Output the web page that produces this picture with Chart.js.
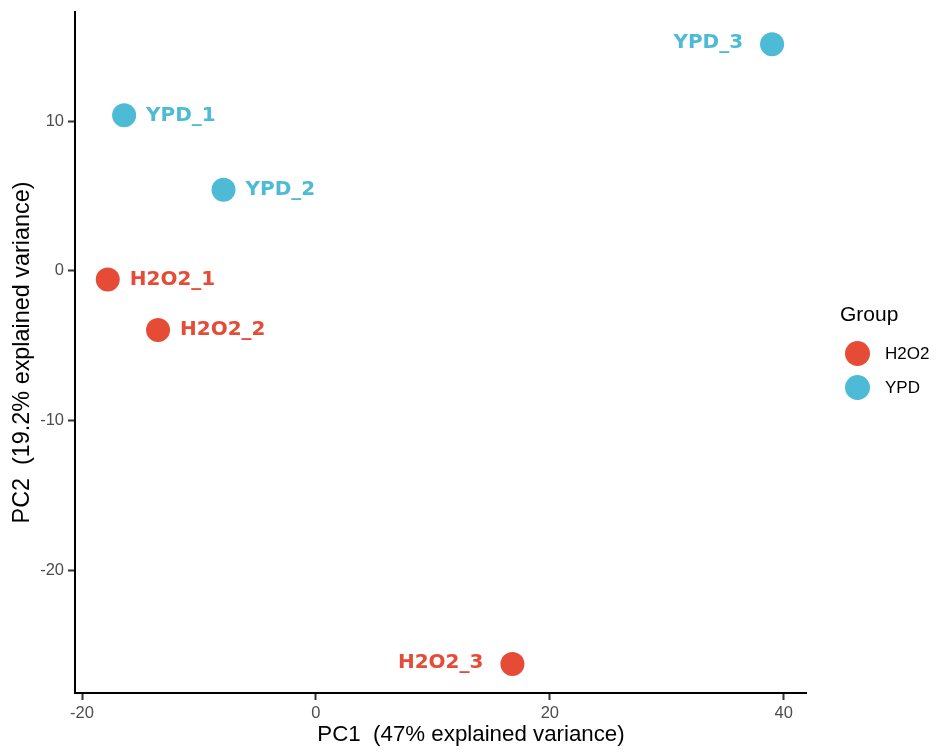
<!DOCTYPE html>
<html>
<head>
<meta charset="utf-8">
<script src="https://cdn.jsdelivr.net/npm/chart.js@4/dist/chart.umd.min.js"></script>
<style>
  html, body { margin: 0; padding: 0; background: #ffffff; }
  #wrap { width: 936px; height: 752px; }
</style>
</head>
<body>
<div id="wrap"><canvas id="pca" width="936" height="752"></canvas></div>
<script>
// ---- data ----
const sampleNames = ['H2O2_1', 'H2O2_2', 'H2O2_3', 'YPD_1', 'YPD_2', 'YPD_3'];
const sampleGroups = ['H2O2', 'H2O2', 'H2O2', 'YPD', 'YPD', 'YPD'];
const pc1 = [-17.8, -13.5, 16.8, -16.4, -7.9, 39.0];
const pc2 = [-0.57, -3.94, -26.25, 10.39, 5.42, 15.14];
const groupLevels = ['H2O2', 'YPD'];
const xTickValues = [-20, 0, 20, 40];
const yTickValues = [-20, -10, 0, 10];
const xTitle = 'PC1  (47% explained variance)';
const yTitle = 'PC2  (19.2% explained variance)';
const legendTitle = 'Group';

// ---- styling ----
const groupColors = { H2O2: '#E64B35', YPD: '#4DBBD5' };
const labelsOnLeft = new Set(['H2O2_3', 'YPD_3']);
const SANS = '"Liberation Sans", Arial, Helvetica, sans-serif';

const datasets = groupLevels.map(g => ({
  label: g,
  data: sampleNames
    .map((name, i) => ({ x: pc1[i], y: pc2[i], name, group: sampleGroups[i] }))
    .filter(p => p.group === g),
  backgroundColor: groupColors[g],
  borderColor: groupColors[g],
  borderWidth: 0,
  pointRadius: 12,
  pointHoverRadius: 12
}));

// sample names drawn next to each point
const pointLabels = {
  id: 'pointLabels',
  afterDatasetsDraw(chart) {
    const ctx = chart.ctx;
    ctx.save();
    ctx.font = 'bold 20px "DejaVu Sans", Verdana, sans-serif';
    ctx.textBaseline = 'middle';
    chart.data.datasets.forEach((ds, di) => {
      const meta = chart.getDatasetMeta(di);
      meta.data.forEach((el, i) => {
        const p = ds.data[i];
        ctx.fillStyle = ds.backgroundColor;
        if (labelsOnLeft.has(p.name)) {
          ctx.textAlign = 'right';
          ctx.fillText(p.name, el.x - 29, el.y - 1.5);
        } else {
          ctx.textAlign = 'left';
          ctx.fillText(p.name, el.x + 22, el.y);
        }
      });
    });
    ctx.restore();
  }
};

// x-axis title and group legend
const annotations = {
  id: 'annotations',
  afterDraw(chart) {
    const ctx = chart.ctx;
    const area = chart.chartArea;
    ctx.save();
    ctx.fillStyle = '#000000';
    ctx.textBaseline = 'middle';

    ctx.textAlign = 'center';
    ctx.font = '22.3px ' + SANS;
    ctx.fillText(xTitle, (area.left + area.right) / 2 + 30.5, 735);

    const x0 = area.right + 34;
    ctx.textAlign = 'left';
    ctx.font = '21px ' + SANS;
    ctx.fillText(legendTitle, x0, 315);
    ctx.font = '17px ' + SANS;
    groupLevels.forEach((g, i) => {
      const cy = 353.5 + i * 34;
      ctx.beginPath();
      ctx.fillStyle = groupColors[g];
      ctx.arc(x0 + 17.5, cy, 12.5, 0, Math.PI * 2);
      ctx.fill();
      ctx.fillStyle = '#000000';
      ctx.fillText(g, x0 + 45, cy + 0.5);
    });
    ctx.restore();
  }
};

const axisCommon = {
  type: 'linear',
  border: { display: true, color: '#000000', width: 2 },
  grid: { display: true, drawOnChartArea: false, drawTicks: true, tickLength: 7, tickColor: '#333333', tickWidth: 2 },
  ticks: { color: '#4D4D4D', font: { family: SANS, size: 16.5 }, includeBounds: false }
};

new Chart(document.getElementById('pca'), {
  type: 'scatter',
  data: { datasets },
  options: {
    responsive: false,
    animation: false,
    devicePixelRatio: 1,
    layout: { padding: { top: 10, right: 130, left: 0, bottom: 0 } },
    plugins: { legend: { display: false }, tooltip: { enabled: false } },
    scales: {
      x: {
        ...axisCommon,
        position: 'bottom',
        min: -20.6,
        max: 41.9,
        ticks: { ...axisCommon.ticks, padding: 4, maxRotation: 0 },
        afterBuildTicks: s => { s.ticks = xTickValues.map(v => ({ value: v })); },
        afterFit: s => { s.height = 59; s.paddingLeft = 0; s.paddingRight = 0; },
        title: { display: false }
      },
      y: {
        ...axisCommon,
        position: 'left',
        min: -28.18,
        max: 17.29,
        ticks: { ...axisCommon.ticks, padding: 4 },
        afterBuildTicks: s => { s.ticks = yTickValues.map(v => ({ value: v })); },
        afterFit: s => { s.width = 75; s.paddingTop = 0; s.paddingBottom = 0; },
        title: { display: true, text: yTitle, color: '#000000', font: { family: SANS, size: 23.4 }, padding: { top: 9, bottom: 0 } }
      }
    }
  },
  plugins: [pointLabels, annotations]
});
</script>
</body>
</html>
